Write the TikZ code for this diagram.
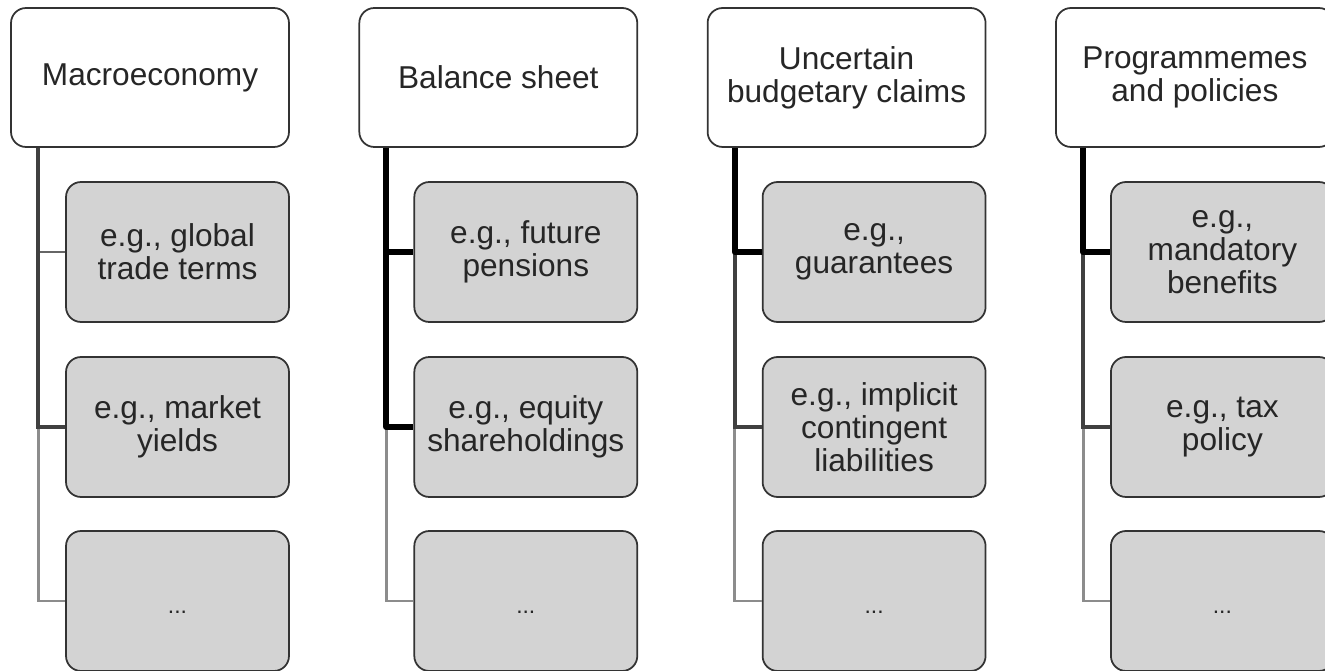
\documentclass[tikz,border=0pt]{standalone}
\usepackage{fontspec}
\setmainfont{Liberation Sans}
\usetikzlibrary{positioning}
\definecolor{boxgray}{RGB}{211,211,211}
\begin{document}
\begin{tikzpicture}[x=0.02cm,y=-0.02cm,
  head/.style={draw=black!80,line width=1pt,rounded corners=0.3cm,fill=white,
    minimum width=5.56cm,minimum height=2.78cm,align=center,text=black!85,
    font=\fontsize{18}{18.8}\selectfont},
  item/.style={head,fill=boxgray,minimum width=4.46cm,minimum height=2.8cm},
  thk/.style={line width=3.4pt,black,line join=round},
  mid/.style={line width=2pt,black!75},
  grey/.style={line width=1.7pt,black!60},
  lite/.style={line width=1.7pt,black!45}]
\clip (0,0) rectangle (1325,671);
\def\colsep{348.3}
\def\more{\vphantom{Ag}\raisebox{-3pt}{\fontsize{13}{15}\selectfont ...}}
\foreach \i/\name in {0/{Macroeconomy},1/{Balance sheet},2/{Uncertain\\budgetary claims},3/{Programmemes\\and policies}}{
  \node[head] (p\i) at (150+\colsep*\i,77.5) {\name};
}
\foreach \i/\ta/\tb in {0/{e.g., global\\trade terms}/{e.g., market\\yields},
    1/{e.g., future\\pensions}/{e.g., equity\\shareholdings},
    2/{e.g.,\\guarantees}/{e.g., implicit\\contingent\\liabilities},
    3/{e.g.,\\mandatory\\benefits}/{e.g., tax\\policy}}{
  \node[item] (c\i1) at (177.5+\colsep*\i,252) {\ta};
  \node[item] (c\i2) at (177.5+\colsep*\i,427) {\tb};
  \node[item] (c\i3) at (177.5+\colsep*\i,601) {\more};
}
\foreach \i/\j/\sj/\k/\sk in {0/1/grey/2/mid,1/1/thk/2/thk,2/2/mid/1/thk,3/2/mid/1/thk}{
  \draw[lite] ([xshift=0.56cm]p\i.south west) |- (c\i3.west);
  \draw[\sj] ([xshift=0.56cm]p\i.south west) |- (c\i\j.west);
  \draw[\sk] ([xshift=0.56cm]p\i.south west) |- (c\i\k.west);
}
\end{tikzpicture}
\end{document}
